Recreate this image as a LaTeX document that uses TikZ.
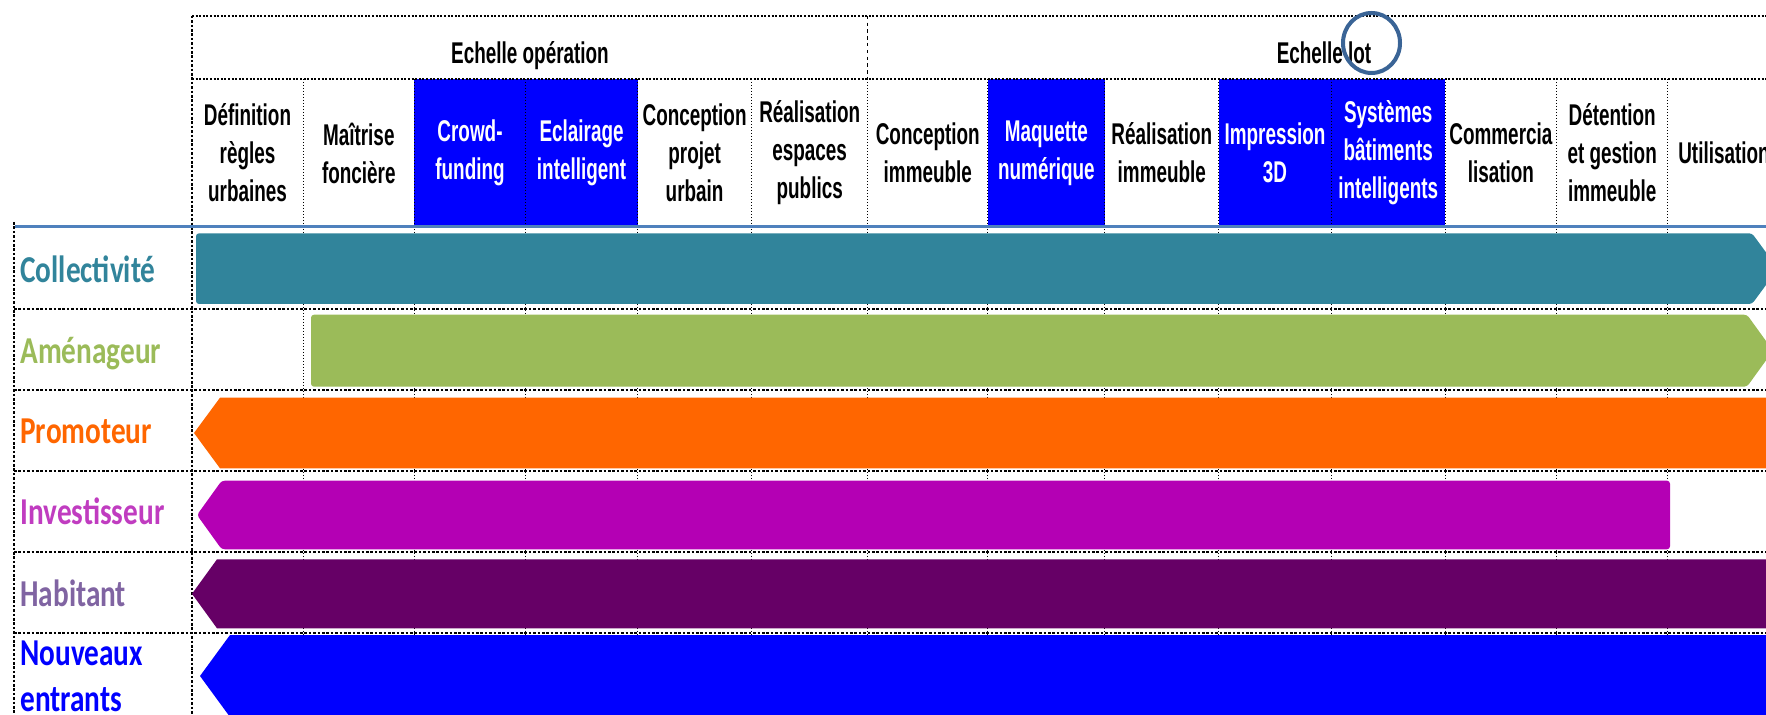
\documentclass[tikz,border=0pt]{standalone}
\usepackage{fontspec}
\newfontfamily\headfont[FakeStretch=0.63]{Liberation Sans}
\newfontfamily\actorfont[FakeStretch=0.77]{Carlito}

\definecolor{barteal}{HTML}{31849B}
\definecolor{bargreen}{HTML}{9BBB59}
\definecolor{barorange}{HTML}{FF6600}
\definecolor{barmagenta}{HTML}{B400B4}
\definecolor{txtmagenta}{HTML}{C03CC0}
\definecolor{barplum}{HTML}{660066}
\definecolor{txtplum}{HTML}{8064A2}
\definecolor{barblue}{HTML}{0000FF}
\definecolor{cellblue}{HTML}{0000FF}
\definecolor{ruleblue}{HTML}{4F81BD}
\definecolor{ringblue}{HTML}{3A6496}

\begin{document}
\begin{tikzpicture}[x=0.5pt, y=-0.5pt,
  headline/.style={black, line width=0.8pt, dash pattern=on 1pt off 0.8pt},
  colline/.style={black, line width=0.5pt, densely dotted},
  rowline/.style={black, line width=0.9pt, dash pattern=on 1.3pt off 0.9pt},
  cell/.style={inner sep=0pt, align=center, font=\headfont\bfseries\fontsize{15}{19}\selectfont},
  bluecell/.style={cell, white},
  actor/.style={anchor=base west, inner sep=0pt, font=\actorfont\bfseries\fontsize{19}{23}\selectfont}]

  % cadre
  \clip (0,0) rectangle (1766,715);
  \useasboundingbox (0,0) rectangle (1766,715);

  % cases bleues (innovations)
  \fill[cellblue] (414.3,78.8) rectangle (637.5,227);
  \fill[cellblue] (987.8,78.8) rectangle (1104.9,227);
  \fill[cellblue] (1218.7,78.8) rectangle (1445,227);

  % en-tete
  \draw[headline] (192,15.8) -- (1766,15.8);
  \draw[headline] (192,78.8) -- (1766,78.8);
  \draw[black, line width=0.7pt, dash pattern=on 1.7pt off 1.7pt] (867.7,15.8) -- (867.7,78.8);
  \draw[rowline] (192,15.8) -- (192,715);
  \foreach \x in {303.3,414.3,525.7,637.5,751.7,867.7,987.8,1104.9,1218.7,1331.3,1445,1556.7,1667.7}
    \draw[colline] (\x,78.8) -- (\x,715);

  % lignes des acteurs
  \draw[rowline] (14,222) -- (14,715);
  \foreach \y in {309.3,390,470.7,552.3,633.3}
    \draw[rowline] (14,\y) -- (1766,\y);
  \draw[ruleblue, line width=1.5pt] (15,227) -- (1766,227);

  % echelles
  \node[cell, anchor=base] (operation) at (530,64) {Echelle opération};
  \node[cell, anchor=base] (lot) at (1324,64) {Echelle lot};
  \draw[ringblue, line width=2pt] (1371.5,43) ellipse [x radius=14.25pt, y radius=15pt];

  % etapes
  \node[cell] (regles) at (247.5,153) {Définition\\règles\\urbaines};
  \node[cell] (fonciere) at (358.8,153) {Maîtrise\\foncière};
  \node[bluecell] (crowd) at (470,153) {Crowd-\\funding};
  \node[bluecell] (eclairage) at (581.6,153) {Eclairage\\intelligent};
  \node[cell] (projet) at (694.6,153) {Conception\\projet\\urbain};
  \node[cell] (espaces) at (809.7,153) {Réalisation\\espaces\\publics};
  \node[cell] (immeuble) at (927.8,153) {Conception\\immeuble};
  \node[bluecell] (maquette) at (1046.4,153) {Maquette\\numérique};
  \node[cell] (realisation) at (1161.8,153) {Réalisation\\immeuble};
  \node[bluecell] (impression) at (1275,153) {Impression\\3D};
  \node[bluecell] (systemes) at (1388.2,153) {Systèmes\\bâtiments\\intelligents};
  \node[cell] (commerce) at (1500.9,153) {Commercia\\lisation};
  \node[cell] (detention) at (1612.2,153) {Détention\\et gestion\\immeuble};
  \node[cell] (utilisation) at (1724,153) {Utilisation};

  % barres
  \fill[barteal, rounded corners=1.5pt] (196,233.3) -- (1752,233.3) -- (1778,268.7) -- (1752,304) -- (196,304) -- cycle;
  \fill[bargreen, rounded corners=1.5pt] (311,314.7) -- (1747,314.7) -- (1773,350.7) -- (1747,386.7) -- (311,386.7) -- cycle;
  \fill[barorange] (194,433) -- (220,397.7) -- (1780,397.7) -- (1780,468.3) -- (220,468.3) -- cycle;
  \fill[barmagenta, rounded corners=1.5pt] (197,515) -- (221.7,480.7) -- (1670,480.7) -- (1670,549.3) -- (221.7,549.3) -- cycle;
  \fill[barplum] (192,593.8) -- (217,559.3) -- (1780,559.3) -- (1780,628.3) -- (217,628.3) -- cycle;
  \fill[barblue] (200,676) -- (230,635) -- (1780,635) -- (1780,717) -- (230,717) -- cycle;

  % acteurs
  \node[actor, barteal] (collectivite) at (20,282.7) {Collectivité};
  \node[actor, bargreen] (amenageur) at (20,364) {Aménageur};
  \node[actor, barorange] (promoteur) at (20,444) {Promoteur};
  \node[actor, txtmagenta] (investisseur) at (20,524) {Investisseur};
  \node[actor, txtplum] (habitant) at (20,606) {Habitant};
  \node[actor, barblue] (nouveaux) at (20,665) {Nouveaux};
  \node[actor, barblue] (entrants) at (20,711.7) {entrants};

\end{tikzpicture}
\end{document}
